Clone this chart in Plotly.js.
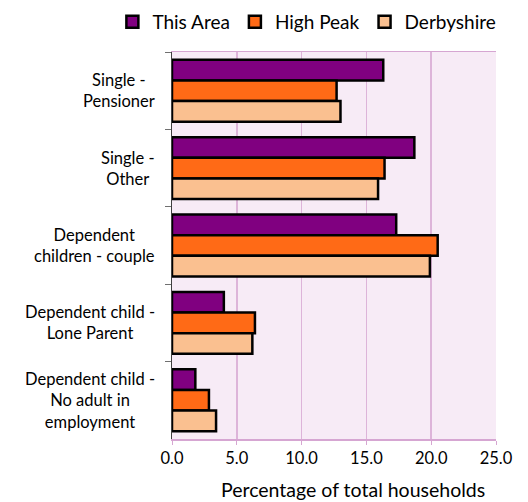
<!DOCTYPE html>
<html>
<head>
<meta charset="utf-8">
<script src="https://cdn.plot.ly/plotly-3.0.1.min.js"></script>
<style>html,body{margin:0;padding:0;background:#fff;}</style>
</head>
<body>
<div id="chart" style="width:528px;height:502px;"></div>
<script>
const categories = ["Single - Pensioner", "Single - Other", "Dependent children - couple", "Dependent child - Lone Parent", "Dependent child - No adult in employment"];
const categoryLabels = ["Single -<br>Pensioner", "Single -<br>Other", "Dependent<br>children - couple", "Dependent child -<br>Lone Parent", "Dependent child -<br>No adult in<br>employment"];
const seriesNames = ["This Area", "High Peak", "Derbyshire"];
const thisArea = [16.3, 18.7, 17.3, 4.0, 1.8];
const highPeak = [12.7, 16.4, 20.5, 6.4, 2.85];
const derbyshire = [13.0, 15.9, 19.9, 6.2, 3.4];
const colors = ["#800080", "#FF6A16", "#FAC090"];
const xTicks = [0, 5, 10, 15, 20, 25];
const xTitle = "Percentage of total households";

const FONT = 'Lato, "Open Sans", sans-serif';
const seriesValues = [thisArea, highPeak, derbyshire];
const traces = seriesValues.map((vals, i) => ({
  type: 'bar',
  orientation: 'h',
  name: seriesNames[i],
  y: categories,
  x: vals,
  marker: {color: colors[i], line: {color: '#000000', width: 2.5}},
  hoverinfo: 'x'
}));

const annotations = categories.map((c, i) => ({
  xref: 'paper', yref: 'y', x: 0, y: c,
  xanchor: 'right', yanchor: 'middle', xshift: -15,
  text: categoryLabels[i], align: 'center', showarrow: false,
  font: {family: FONT, size: 16.5, color: '#000'}
}));
annotations.push({
  xref: 'paper', yref: 'paper', x: 0.56, y: 0,
  xanchor: 'center', yanchor: 'top', yshift: -37,
  text: xTitle, showarrow: false,
  font: {family: FONT, size: 19.5, color: '#000'}
});

const layout = {
  width: 528, height: 502,
  margin: {l: 172, r: 32, t: 52, b: 63, autoexpand: false},
  paper_bgcolor: '#ffffff',
  plot_bgcolor: '#F7EBF6',
  font: {family: FONT, size: 16.5, color: '#000'},
  barmode: 'group',
  bargap: 0.2,
  bargroupgap: 0,
  showlegend: true,
  legend: {orientation: 'h', x: -0.184, xanchor: 'left', y: 1.078, yanchor: 'middle',
           font: {size: 19, color: '#000'}, traceorder: 'normal', itemwidth: 30,
           bgcolor: 'rgba(0,0,0,0)'},
  xaxis: {
    range: [0, 25], tickvals: xTicks, tickformat: '.1f',
    showgrid: true, gridcolor: '#DDB4D9', gridwidth: 1.5,
    zeroline: false, showline: true, linecolor: '#D6A6D2', linewidth: 1.5, mirror: true,
    ticks: 'outside', ticklen: 4, tickcolor: '#D6A6D2',
    tickfont: {size: 16.5}, automargin: false
  },
  yaxis: {
    type: 'category', autorange: 'reversed',
    showticklabels: false, showgrid: false, zeroline: false,
    showline: true, linecolor: '#404040', linewidth: 1.5,
    ticks: 'outside', ticklen: 6, tickcolor: '#707070', tickson: 'boundaries',
    automargin: false
  },
  annotations: annotations
};

Plotly.newPlot('chart', traces, layout, {displayModeBar: false, staticPlot: true});
</script>
</body>
</html>
